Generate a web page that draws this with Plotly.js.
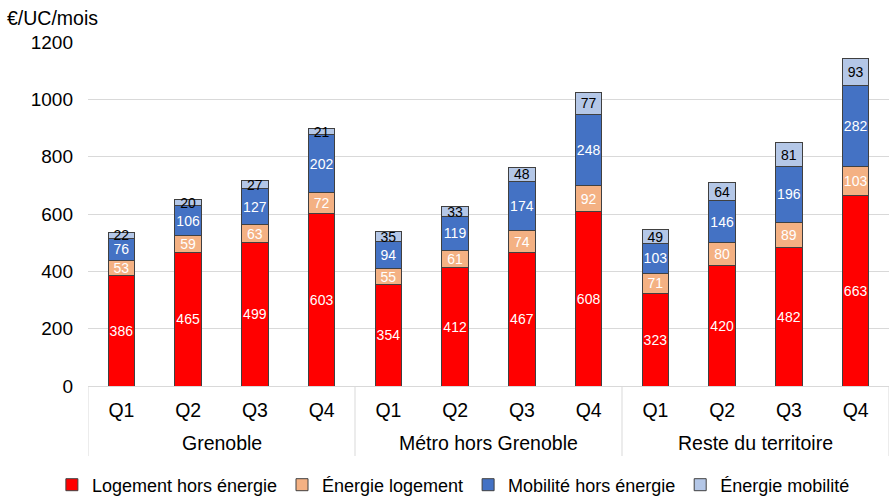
<!DOCTYPE html>
<html><head><meta charset="utf-8">
<script src="https://cdn.plot.ly/plotly-3.0.1.min.js"></script>
<style>body{margin:0}#c{width:889px;height:497px}</style>
</head><body><div id="c"></div>
<script>
const groups = ["Grenoble","Grenoble","Grenoble","Grenoble","Métro hors Grenoble","Métro hors Grenoble","Métro hors Grenoble","Métro hors Grenoble","Reste du territoire","Reste du territoire","Reste du territoire","Reste du territoire"];
const quartiles = ["Q1","Q2","Q3","Q4","Q1","Q2","Q3","Q4","Q1","Q2","Q3","Q4"];
const logement = [386,465,499,603,354,412,467,608,323,420,482,663];
const energieLogement = [53,59,63,72,55,61,74,92,71,80,89,103];
const mobilite = [76,106,127,202,94,119,174,248,103,146,196,282];
const energieMobilite = [22,20,27,21,35,33,48,77,49,64,81,93];

const seriesNames = ["Logement hors énergie","Énergie logement","Mobilité hors énergie","Énergie mobilité"];
const seriesVals = [logement, energieLogement, mobilite, energieMobilite];
const colors = ["#FF0000","#F4B183","#4472C4","#B4C7E7"];
const textColors = ["#FFFFFF","#FFFFFF","#FFFFFF","#000000"];

const FONT = "Liberation Sans, Arial, sans-serif";
const cats = groups.map((g,i)=>g+"|"+quartiles[i]);

const traces = seriesVals.map((v,i)=>({
  type:"bar",
  name:seriesNames[i],
  x:cats,
  y:v,
  text:v.map(String),
  textposition:"inside",
  insidetextanchor:"middle",
  constraintext:"none",
  textangle:0,
  textfont:{family:FONT, size:14, color:textColors[i]},
  marker:{color:colors[i], line:{color:"#404040", width:1}},
  width:0.4,
  hoverinfo:"skip"
}));

// group labels and dividers derived from the groups array
const uniqueGroups = [...new Set(groups)];
const annotations = uniqueGroups.map(g=>{
  const idx = groups.map((x,i)=>x===g?i:-1).filter(i=>i>=0);
  const mid = (idx[0]+idx[idx.length-1])/2;
  return {text:g, xref:"x", yref:"paper", x:mid, y:-57/344, yanchor:"middle",
          showarrow:false, font:{family:FONT, size:19.5, color:"#000"}};
});
annotations.push({
  text:"€/UC/mois", xref:"paper", yref:"paper", x:-83/801, y:1+24/344,
  xanchor:"left", yanchor:"middle", showarrow:false,
  font:{family:FONT, size:19.5, color:"#000"}
});
const boundaries = [];
groups.forEach((g,i)=>{ if(i===0 || groups[i-1]!==g) boundaries.push(i-0.5); });
boundaries.push(groups.length-0.5);
const shapes = boundaries.map(b=>({
  type:"line", xref:"x", yref:"paper", x0:b, x1:b, y0:0, y1:-70/344,
  line:{color:"#D9D9D9", width:1}
}));

const layout = {
  barmode:"stack",
  width:889, height:497,
  margin:{l:88, r:0, t:42, b:111},
  paper_bgcolor:"#fff", plot_bgcolor:"#fff",
  font:{family:FONT, size:19.5, color:"#000"},
  xaxis:{
    type:"category",
    tickvals:cats, ticktext:quartiles,
    showline:true, linecolor:"#D9D9D9", linewidth:1,
    tickfont:{size:19.5, color:"#000"},
    ticks:"", ticklabelstandoff:7,
    range:[-0.5, cats.length-0.5]
  },
  yaxis:{
    range:[0,1200], dtick:200,
    gridcolor:"#D9D9D9", gridwidth:1,
    zeroline:false,
    tickfont:{size:19, color:"#000"},
    ticks:"", ticklabelstandoff:14
  },
  legend:{
    orientation:"h", xref:"container", yref:"container",
    x:0.51, xanchor:"center", y:12/497, yanchor:"middle",
    font:{size:18, color:"#000"}, traceorder:"normal"
  },
  annotations:annotations,
  shapes:shapes,
  showlegend:true
};
Plotly.newPlot("c", traces, layout, {staticPlot:true});
</script></body></html>
